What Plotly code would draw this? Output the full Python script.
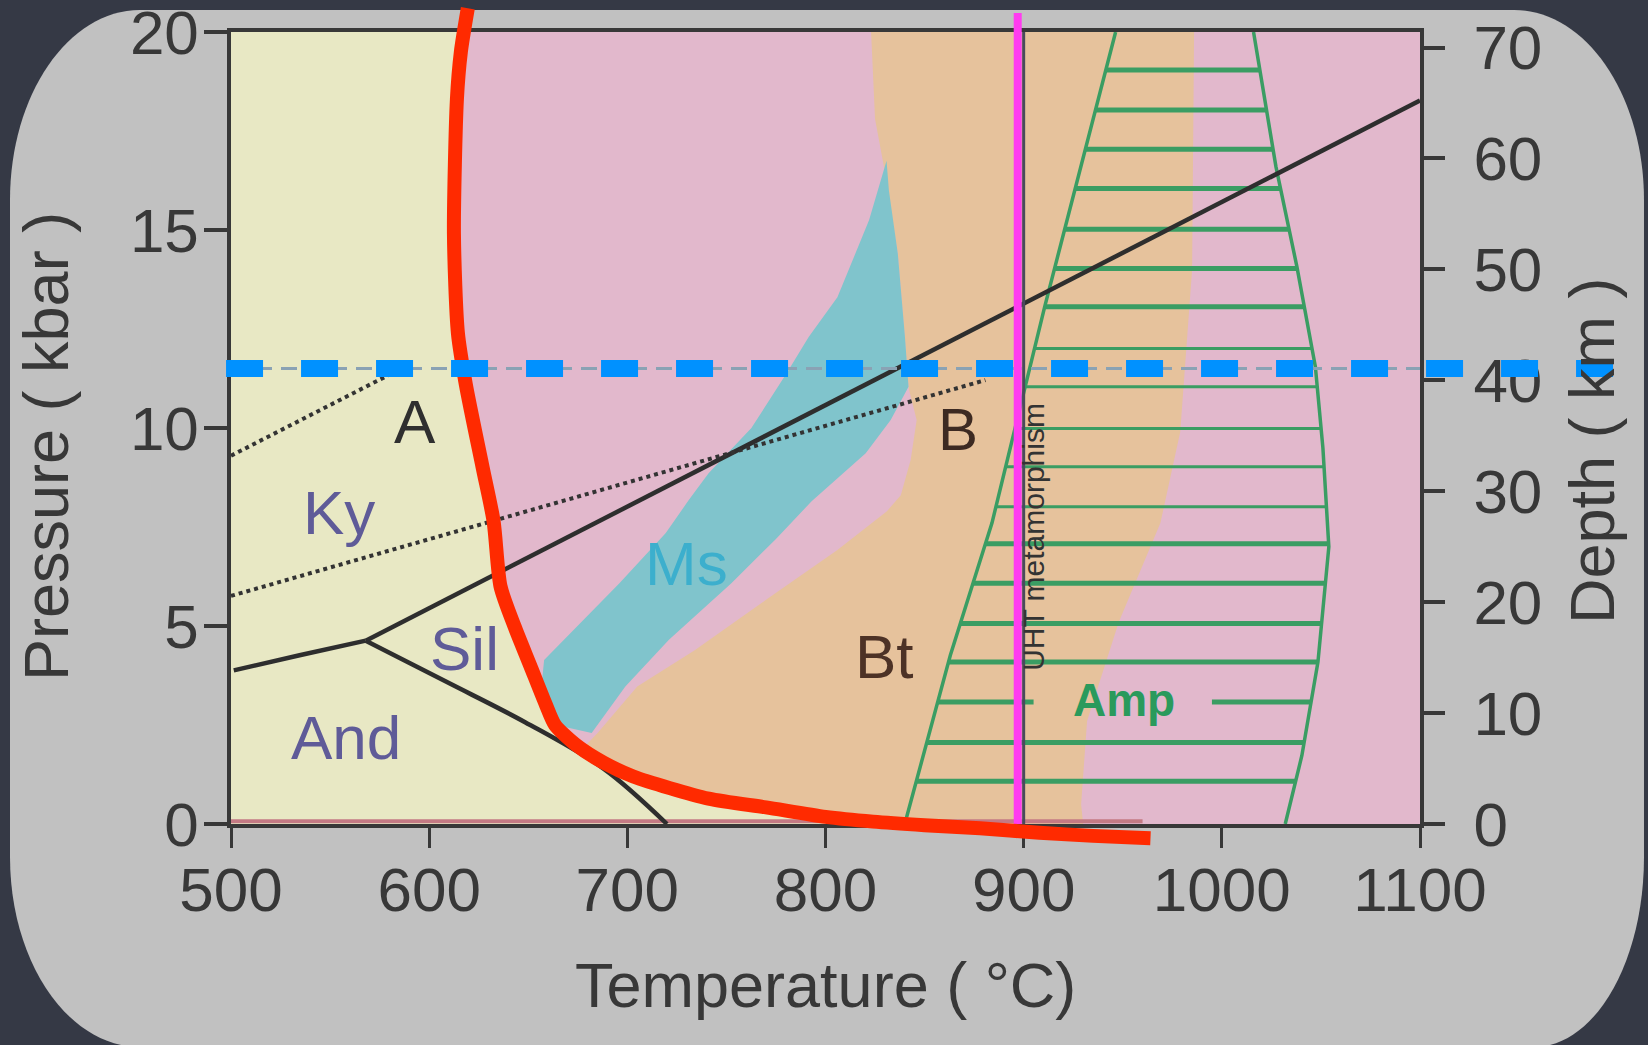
import plotly.graph_objects as go

# ---------------- data ----------------
temp_ticks = [500, 600, 700, 800, 900, 1000, 1100]
pres_ticks = [0, 5, 10, 15, 20]
depth_ticks = [0, 10, 20, 30, 40, 50, 60, 70]
depth_at_20kbar = 71.4

# Bt (orange) field outline
bt_T = [823, 825, 829.5, 836.5, 840, 842, 846, 843, 838, 831, 806, 770, 734, 705, 685, 660, 700, 930, 929, 932, 948, 969, 979, 985, 986]
bt_P = [20, 17.8, 16.6, 14.4, 12.3, 11.0, 10.2, 9.2, 8.3, 7.9, 6.92, 5.66, 4.39, 3.47, 2.3, 1.0, 0, 0, 0.5, 2.6, 5.1, 7.6, 9.9, 14.0, 20]

# Ms (cyan) band outline
ms_T = [830.8, 822, 806, 791.5, 780.6, 762.6, 741, 731, 719.4, 696, 658, 655, 682, 699, 721, 752.5, 775, 793, 820.3, 832.9, 841.9, 840.1, 836.5, 832]
ms_P = [16.75, 15.25, 13.3, 12.3, 11.4, 10.0, 8.86, 8.18, 7.35, 6.08, 4.14, 2.6, 2.3, 3.47, 4.65, 6.08, 7.2, 8.15, 9.36, 10.2, 11.04, 12.3, 14.4, 16.0]

# hand-drawn red curve
red_T = [619.5, 616, 614, 612.5, 614.5, 618.5, 627, 632.5, 636, 643, 651, 659, 663.5, 674, 688, 703, 741, 770, 800, 824, 850, 878, 908, 935, 964]
red_P = [20.6, 19.5, 18.3, 14.9, 12.4, 11.1, 9.0, 7.65, 6.0, 5.0, 4.0, 3.0, 2.5, 2.0, 1.55, 1.2, 0.64, 0.42, 0.18, 0.06, -0.03, -0.11, -0.22, -0.30, -0.36]

# Amp hatched field
amp_left_T = [840, 863, 884, 910.6, 946.4]
amp_left_P = [0, 4.26, 7.6, 13.06, 20]
amp_right_T = [1032, 1040.4, 1048.5, 1054, 1051, 1047.2, 1037.9, 1027.3, 1016]
amp_right_P = [0, 1.73, 4.09, 7.0, 9.5, 11.55, 14.07, 16.6, 20]
hatch_P = [1.08, 2.06, 3.08, 4.09, 5.06, 6.08, 7.08, 8.01, 9.02, 9.99, 11.04, 12.01, 13.06, 14.03, 15.02, 16.05, 17.04, 18.03, 19.04]
hatch_left_T = [845.8, 851.1, 856.6, 862.1, 868.0, 874.4, 880.7, 886.0, 890.9, 895.7, 900.8, 905.5, 910.6, 915.6, 920.7, 926.0, 931.1, 936.2, 941.4]
hatch_right_T = [1037.2, 1041.5, 1045.0, 1048.5, 1050.3, 1052.3, 1053.9, 1052.8, 1051.6, 1050.1, 1048.1, 1045.5, 1041.6, 1038.0, 1033.9, 1029.6, 1025.8, 1022.5, 1019.2]
amp_gap_T = [905, 995]

# phase boundaries
and_ky_T = [501.4, 534.6, 568]
and_ky_P = [3.88, 4.26, 4.63]
ky_sil_T = [568, 1100]
ky_sil_P = [4.63, 18.27]
and_sil_T = [568, 608.7, 648.4, 688, 720]
and_sil_P = [4.63, 3.59, 2.57, 1.40, 0]
dotted_A_T = [500, 582]
dotted_A_P = [9.30, 11.40]
dotted_B_T = [500, 880.7]
dotted_B_P = [5.76, 11.21]
uht_T = 900
magenta_T = 897
magenta_P = [0, 20.48]
blue_P = 11.5
blue_T = [497.5, 1215]
base_T = [500, 960]
base_P = 0.07

# labels
labels = [
    ("A", 592.8, 10.16, "#2f2f2f", 62),
    ("Ky", 554.7, 7.87, "#5f5b98", 62),
    ("Sil", 618.0, 4.43, "#5f5b98", 62),
    ("And", 557.8, 2.18, "#5f5b98", 62),
    ("Ms", 730.1, 6.58, "#3cafcd", 62),
    ("B", 867.1, 9.95, "#3d2a22", 60),
    ("Bt", 829.6, 4.24, "#4d3226", 62),
]
amp_label = ("Amp", 950.4, 3.13)
uht_label = ("UHT metamorphism", 905.2, 7.25)

# ---------------- layout geometry ----------------
W, H = 1648, 1045
PX_L, PX_R, PX_T, PX_B = 231, 1420, 32, 824
T_MIN, T_MAX = temp_ticks[0], temp_ticks[-1]
P_MIN, P_MAX = pres_ticks[0], pres_ticks[-1]
sx = (PX_R - PX_L) / (T_MAX - T_MIN)
sy = (PX_B - PX_T) / (P_MAX - P_MIN)
x3_range = [T_MIN - PX_L / sx, T_MIN + (W - PX_L) / sx]
y3_range = [P_MIN - (H - PX_B) / sy, P_MIN + PX_B / sy]

FONT = "Liberation Sans, Arial, sans-serif"
INK = "#383838"
PINK = "#e2b8cc"
YELLOW = "#e8e8c4"
ORANGE = "#e6c29c"
CYAN = "#80c4cc"
GREEN = "#3a9d63"

fig = go.Figure()

# fields
fig.add_trace(go.Scatter(x=bt_T, y=bt_P, fill="toself", fillcolor=ORANGE, mode="none", hoverinfo="skip"))
fig.add_trace(go.Scatter(x=ms_T, y=ms_P, fill="toself", fillcolor=CYAN, mode="none", hoverinfo="skip"))
yel_x = [T_MIN, T_MIN] + red_T + [red_T[-1], T_MIN]
yel_y = [P_MIN - 1, P_MAX + 1] + red_P + [P_MIN - 1, P_MIN - 1]
fig.add_trace(go.Scatter(x=yel_x, y=yel_y, fill="toself", fillcolor=YELLOW, mode="none", hoverinfo="skip"))

# reddish base line
fig.add_trace(go.Scatter(x=base_T, y=[base_P, base_P], mode="lines",
                         line=dict(color="#c47a84", width=4), hoverinfo="skip"))

# Amp hatch
thick_x, thick_y, thin_x, thin_y = [], [], [], []
for p, tl, tr in zip(hatch_P, hatch_left_T, hatch_right_T):
    if abs(p - amp_label[2]) < 0.3:
        segs = [(tl, amp_gap_T[0]), (amp_gap_T[1], tr)]
    else:
        segs = [(tl, tr)]
    for a, b in segs:
        if 7.5 < p < 12.5:
            thin_x += [a, b, None]
            thin_y += [p, p, None]
        else:
            thick_x += [a, b, None]
            thick_y += [p, p, None]
fig.add_trace(go.Scatter(x=thick_x, y=thick_y, mode="lines", line=dict(color=GREEN, width=5), hoverinfo="skip"))
fig.add_trace(go.Scatter(x=thin_x, y=thin_y, mode="lines", line=dict(color=GREEN, width=3), hoverinfo="skip"))
fig.add_trace(go.Scatter(x=amp_left_T, y=amp_left_P, mode="lines", line=dict(color=GREEN, width=3.5), hoverinfo="skip"))
fig.add_trace(go.Scatter(x=amp_right_T, y=amp_right_P, mode="lines", line=dict(color=GREEN, width=3.5), hoverinfo="skip"))

# phase boundary lines
for xs, ys in [(and_ky_T, and_ky_P), (ky_sil_T, ky_sil_P), (and_sil_T, and_sil_P)]:
    fig.add_trace(go.Scatter(x=xs, y=ys, mode="lines", line=dict(color="#2e2e2e", width=4.5, shape="spline"),
                             hoverinfo="skip"))
for xs, ys in [(dotted_A_T, dotted_A_P), (dotted_B_T, dotted_B_P)]:
    fig.add_trace(go.Scatter(x=xs, y=ys, mode="lines", line=dict(color="#333333", width=4, dash="4px,4px"),
                             hoverinfo="skip"))
fig.add_trace(go.Scatter(x=[uht_T, uht_T], y=[P_MIN, P_MAX], mode="lines",
                         line=dict(color="#4a4a5c", width=3), hoverinfo="skip"))
# faint original dashed line under the blue one
fig.add_trace(go.Scatter(x=[T_MIN, T_MAX], y=[blue_P, blue_P], mode="lines",
                         line=dict(color="#8aa2b4", width=3, dash="16px,9px"), hoverinfo="skip"))

# depth axis carrier
fig.add_trace(go.Scatter(x=[T_MIN, T_MIN], y=[depth_ticks[0], depth_ticks[-1]], yaxis="y2", mode="markers",
                         marker=dict(opacity=0), hoverinfo="skip"))

# overlay marks (full-page subplot, same scale)
fig.add_trace(go.Scatter(x=[magenta_T, magenta_T], y=magenta_P, xaxis="x3", yaxis="y3", mode="lines",
                         line=dict(color="#ff3cf0", width=8), hoverinfo="skip"))
fig.add_trace(go.Scatter(x=red_T, y=red_P, xaxis="x3", yaxis="y3", mode="lines",
                         line=dict(color="#ff2a00", width=14, shape="spline", smoothing=0.7), hoverinfo="skip"))
fig.add_trace(go.Scatter(x=blue_T, y=[blue_P, blue_P], xaxis="x3", yaxis="y3", mode="lines",
                         line=dict(color="#0091ff", width=17, dash="37px,38px"), hoverinfo="skip"))

# annotations
ann = []
for txt, t, p, col, sz in labels:
    ann.append(dict(x=t, y=p, xref="x", yref="y", text=txt, showarrow=False,
                    font=dict(family=FONT, size=sz, color=col), xanchor="center", yanchor="middle"))
ann.append(dict(x=amp_label[1], y=amp_label[2], xref="x", yref="y", text="<b>%s</b>" % amp_label[0],
                showarrow=False, xanchor="center", yanchor="middle",
                font=dict(family=FONT, size=46, color="#2a9a5c")))
ann.append(dict(x=uht_label[1], y=uht_label[2], xref="x", yref="y", text=uht_label[0], textangle=-90,
                showarrow=False, xanchor="center", yanchor="middle",
                font=dict(family=FONT, size=30, color="#333333")))
ann.append(dict(x=(PX_L + PX_R) / 2 / W, y=1 - 985 / H, xref="paper", yref="paper", text="Temperature ( °C)",
                showarrow=False, xanchor="center", yanchor="middle", font=dict(family=FONT, size=63, color=INK)))
ann.append(dict(x=46 / W, y=1 - 447 / H, xref="paper", yref="paper", text="Pressure ( kbar )", textangle=-90,
                showarrow=False, xanchor="center", yanchor="middle", font=dict(family=FONT, size=63, color=INK)))
ann.append(dict(x=1592 / W, y=1 - 451 / H, xref="paper", yref="paper", text="Depth ( km )", textangle=-90,
                showarrow=False, xanchor="center", yanchor="middle", font=dict(family=FONT, size=63, color=INK)))

# rounded grey panel (elliptical corners)
def pp(px, py):
    return "%.5f,%.5f" % (px / W, 1 - py / H)

L, R, Tp, B = 10, 1644, 10, 1047
rx, ry, k = 130, 190, 0.5523
rxb = 110
path = ("M" + pp(L + rx, Tp) + " L" + pp(R - rx, Tp) +
        " C" + pp(R - rx + k * rx, Tp) + " " + pp(R, Tp + ry - k * ry) + " " + pp(R, Tp + ry) +
        " L" + pp(R, B - ry) +
        " C" + pp(R, B - ry + k * ry) + " " + pp(R - rxb + k * rxb, B) + " " + pp(R - rxb, B) +
        " L" + pp(L + rx, B) +
        " C" + pp(L + rx - k * rx, B) + " " + pp(L, B - ry + k * ry) + " " + pp(L, B - ry) +
        " L" + pp(L, Tp + ry) +
        " C" + pp(L, Tp + ry - k * ry) + " " + pp(L + rx - k * rx, Tp) + " " + pp(L + rx, Tp) + " Z")

shapes = [
    dict(type="path", path=path, xref="paper", yref="paper", fillcolor="#c1c1c1", line=dict(width=0), layer="below"),
    dict(type="rect", xref="x domain", yref="y domain", x0=0, x1=1, y0=0, y1=1, fillcolor=PINK,
         line=dict(width=0), layer="below"),
]

tickfont = dict(family=FONT, size=62, color=INK)
fig.update_layout(
    template="none",
    width=W, height=H,
    margin=dict(l=0, r=0, t=0, b=0),
    paper_bgcolor="#353945",
    plot_bgcolor="rgba(0,0,0,0)",
    showlegend=False,
    shapes=shapes,
    annotations=ann,
    xaxis=dict(domain=[PX_L / W, PX_R / W], range=[T_MIN, T_MAX], anchor="y", tickmode="array",
               tickvals=temp_ticks, ticks="outside", ticklen=20, tickwidth=3, tickcolor=INK,
               showline=True, linewidth=3.5, linecolor=INK, mirror=True, showgrid=False, zeroline=False,
               tickfont=tickfont, fixedrange=True, automargin=False, ticklabelstandoff=-11,
               ticklabeloverflow="allow"),
    yaxis=dict(domain=[1 - PX_B / H, 1 - PX_T / H], range=[P_MIN, P_MAX], anchor="x", tickmode="array",
               tickvals=pres_ticks, ticks="outside", ticklen=23, tickwidth=4, tickcolor=INK,
               showline=True, linewidth=3.5, linecolor=INK, mirror=True, showgrid=False, zeroline=False,
               tickfont=tickfont, fixedrange=True, automargin=False, ticklabelstandoff=-7,
               ticklabeloverflow="allow"),
    yaxis2=dict(overlaying="y", side="right", anchor="x", range=[0, depth_at_20kbar], tickmode="array",
                tickvals=depth_ticks, ticks="outside", ticklen=24, tickwidth=4, tickcolor=INK,
                showline=False, showgrid=False, zeroline=False, tickfont=tickfont, fixedrange=True,
                automargin=False, ticklabelstandoff=16, ticklabeloverflow="allow"),
    xaxis3=dict(domain=[0, 1], anchor="y3", range=x3_range, visible=False, fixedrange=True),
    yaxis3=dict(domain=[0, 1], anchor="x3", range=y3_range, visible=False, fixedrange=True),
)

fig.write_html("out.html", config={"displayModeBar": False},
               post_script="document.body.style.margin='0';document.body.style.overflow='hidden';")
